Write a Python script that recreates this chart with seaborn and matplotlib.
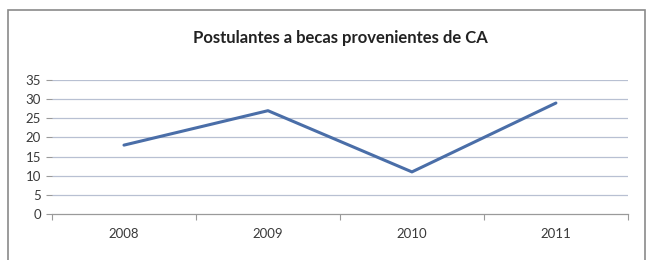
import pandas as pd
import matplotlib.pyplot as plt
import seaborn as sns
from matplotlib.patches import Rectangle

# Data
years = ['2008', '2009', '2010', '2011']
postulantes = [18, 27, 11, 29]
y_ticks = [0, 5, 10, 15, 20, 25, 30, 35]

df = pd.DataFrame({'year': years, 'postulantes': postulantes})

sns.set_theme(style='white')
plt.rcParams['font.family'] = ['Lato', 'DejaVu Sans']

fig = plt.figure(figsize=(6.5, 2.6), dpi=100)
ax = fig.add_axes([0.08, 0.177, 0.886, 0.515])

# Outer chart frame (like the Excel chart border)
fig.patches.append(Rectangle((0.013, -0.01), 0.98, 0.97, transform=fig.transFigure,
                             fill=False, edgecolor='#8a8a8a', linewidth=1.2))

# Gridlines
for v in y_ticks[1:]:
    ax.axhline(v, color='#b8c0d2', linewidth=0.9, zorder=0)

sns.lineplot(data=df, x='year', y='postulantes', ax=ax, color='#4a6ea8',
             linewidth=2.2, sort=False)

ax.set_xlim(-0.5, 3.5)
ax.set_ylim(0, 35)
ax.set_yticks(y_ticks)
ax.set_xticks(range(len(years)))
ax.set_xticklabels(years)
ax.set_xticks([-0.5, 0.5, 1.5, 2.5, 3.5], minor=True)
ax.tick_params(axis='x', which='major', length=0, pad=10, labelsize=9.5, labelcolor='#3a3a3a')
ax.tick_params(axis='x', which='minor', length=4, color='#9a9a9a', width=0.8, bottom=True)
ax.tick_params(axis='y', length=4, color='#9a9a9a', width=0.8, labelsize=9.5,
               labelcolor='#3a3a3a', left=True, pad=4)
ax.set_xlabel('')
ax.set_ylabel('')

for side in ['top', 'right', 'left']:
    ax.spines[side].set_visible(False)
ax.spines['bottom'].set_color('#9a9a9a')
ax.spines['bottom'].set_linewidth(0.9)

fig.text(0.523, 0.855, 'Postulantes a becas provenientes de CA', ha='center', va='center',
         fontsize=12, fontweight='bold', color='#222222')

fig.savefig('out.png', dpi=100, facecolor='white')
